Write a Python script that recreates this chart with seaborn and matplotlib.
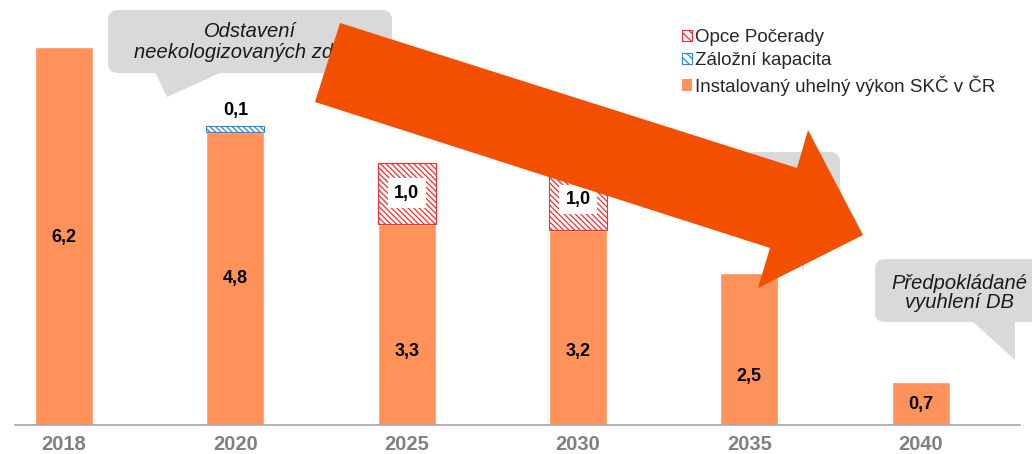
import matplotlib
matplotlib.use("Agg")
import matplotlib.pyplot as plt
import seaborn as sns
import pandas as pd
from matplotlib.patches import FancyBboxPatch, Polygon, Patch

# data (GW)
years = ["2018", "2020", "2025", "2030", "2035", "2040"]
installed = [6.2, 4.8, 3.3, 3.2, 2.5, 0.7]
reserve = [0.0, 0.1, 0.0, 0.0, 0.0, 0.0]
pocerady = [0.0, 0.0, 1.0, 1.0, 0.0, 0.0]
label_heights = [3.07, 2.41, 1.2, 1.2, 0.8, 0.33]  # where the numbers sit inside the bars

ORANGE = "#FF915A"
ARROW = "#F25000"
GREY = "#D9D9D9"
RED = "#FF2A2A"
BLUE = "#2E86D6"

sns.set_style("white")
plt.rcParams["font.family"] = ["Liberation Sans", "DejaVu Sans"]
plt.rcParams["hatch.linewidth"] = 0.9

W, H = 1032, 454
fig = plt.figure(figsize=(W / 100, H / 100), dpi=100)
ax = fig.add_axes([15 / W, 29 / H, 1005 / W, 425 / H])

df = pd.DataFrame({"year": years, "installed": installed})
sns.barplot(data=df, x="year", y="installed", color=ORANGE, width=0.34,
            saturation=1, ax=ax, zorder=2)


def stacked(values, color):
    idx = [i for i, v in enumerate(values) if v > 0]
    ax.bar(idx, [values[i] for i in idx], width=0.34,
           bottom=[installed[i] for i in idx], facecolor="white",
           edgecolor=color, hatch="\\\\\\\\\\\\", linewidth=0.8, zorder=2)


stacked(reserve, BLUE)
stacked(pocerady, RED)


def fmt(v):
    return f"{v:.1f}".replace(".", ",")


for i, (v, r, p, ly) in enumerate(zip(installed, reserve, pocerady, label_heights)):
    ax.text(i, ly, fmt(v), ha="center", va="center",
            fontsize=13, fontweight="bold", color="black", zorder=4)
    if p > 0:
        ax.text(i, v + p / 2, fmt(p), ha="center", va="center",
                fontsize=13, fontweight="bold", color="black", zorder=4,
                bbox=dict(facecolor="white", edgecolor="none", pad=4.5))
    if r > 0:
        ax.text(i, v + r + 0.25, fmt(r), ha="center", va="center",
                fontsize=13, fontweight="bold", color="black", zorder=4)

ax.set_xlim(-0.286, 5.58)
ax.set_ylim(0, 6.97)
ax.set_xlabel("")
ax.set_ylabel("")
ax.set_yticks([])
for s in ["top", "right", "left"]:
    ax.spines[s].set_visible(False)
ax.spines["bottom"].set_color("#A6A6A6")
ax.spines["bottom"].set_linewidth(1.2)
ax.set_xticks(list(range(len(years))))
ax.set_xticklabels(years, fontsize=14.5, fontweight="bold", color="#808080")
ax.tick_params(axis="x", which="major", length=0, pad=7)
ax.set_xticks([i + 0.5 for i in range(5)] + [5.58], minor=True)
ax.tick_params(axis="x", which="minor", length=10, width=1, color="#A6A6A6", direction="out")

handles = [Patch(facecolor="white", edgecolor=RED, hatch="\\\\\\\\", linewidth=0.8),
           Patch(facecolor="white", edgecolor=BLUE, hatch="\\\\\\\\", linewidth=0.8),
           Patch(facecolor=ORANGE, edgecolor="none")]
labels = ["Opce Počerady", "Záložní kapacita", "Instalovaný uhelný výkon SKČ v ČR"]
fig.legend(handles, labels, loc="upper left", bbox_to_anchor=(682 / W, 1 - 29 / H),
           frameon=False, fontsize=13.5, handlelength=0.55, handleheight=0.55,
           handletextpad=0.15, labelspacing=0.32, borderaxespad=0, borderpad=0)

# overlay in pixel coordinates for callouts and the big arrow
ov = fig.add_axes([0, 0, 1, 1])
ov.set_xlim(0, W)
ov.set_ylim(H, 0)
ov.axis("off")
ov.patch.set_alpha(0)


def bubble(x0, y0, x1, y1, tail):
    ov.add_patch(FancyBboxPatch((x0, y0), x1 - x0, y1 - y0,
                                boxstyle="round,pad=0,rounding_size=10",
                                facecolor=GREY, edgecolor="none"))
    ov.add_patch(Polygon(tail, closed=True, facecolor=GREY, edgecolor="none"))


bubble(108, 10, 392, 73, [(155, 72), (222, 72), (167, 97)])
bubble(745, 152, 840, 218, [(790, 217), (812, 217), (803, 272)])
bubble(875, 259, 1045, 322, [(972, 321), (1015, 321), (1015, 360)])

ov.text(250, 42, "Odstavení\nneekologizovaných zdrojů", ha="center", va="center",
        fontsize=14.5, style="italic", color="#1A1A1A", linespacing=0.95)
ov.text(959, 293, "Předpokládané\nvyuhlení DB", ha="center", va="center",
        fontsize=14.5, style="italic", color="#1A1A1A", linespacing=0.95)

ov.add_patch(Polygon([(340, 23), (797, 168), (808, 130), (863, 235),
                      (758, 288), (770, 248), (315, 102)],
                     closed=True, facecolor=ARROW, edgecolor="none", zorder=5))

fig.savefig("out.png", dpi=100)
plt.close(fig)
